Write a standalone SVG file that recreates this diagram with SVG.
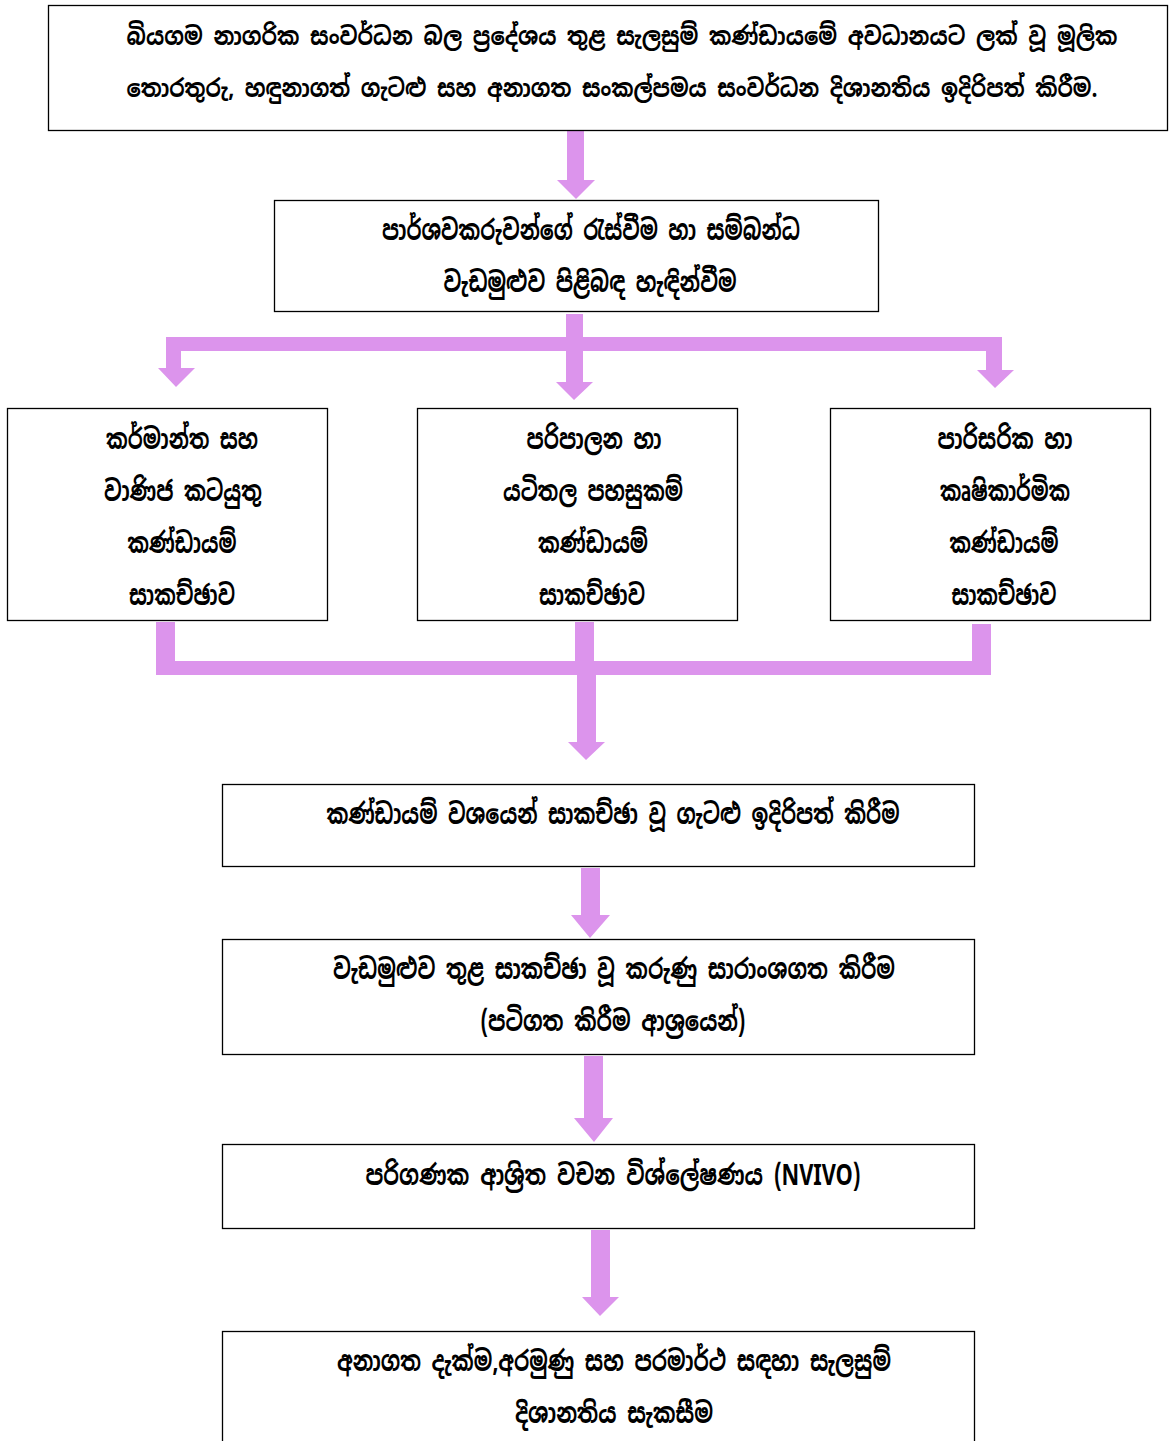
<svg xmlns="http://www.w3.org/2000/svg" width="1172" height="1441" viewBox="0 0 1172 1441">
<style>
.box{fill:#fff;stroke:#000;stroke-width:1.3}
.t{font-family:"Noto Sans Sinhala","Iskoola Pota","Noto Sans","DejaVu Sans",sans-serif;font-size:28px;font-weight:bold;fill:#000;text-anchor:middle;dominant-baseline:central}
.s{font-size:25px}
.a{fill:#DC94EC}
</style>
<rect width="1172" height="1441" fill="#fff"/>
<g id="connectors">
<path class="a" d="M567 131H584V180H595L576 199L557 180H567Z"/>
<path class="a" d="M566 314H583V337H1002V370H1014L995 388L977 370H986V351H583V382H593L574 400L556 382H566V351H181V368H195L176 387L158 368H166V337H566Z"/>
<path class="a" d="M156 622H175V661H575V622H594V661H972V624H991V675H596V742H605L586 760L568 742H577V675H156Z"/>
<path class="a" d="M581 868H600V915H610L590 938L571 915H581Z"/>
<path class="a" d="M584 1056H603V1118H613L594 1142L574 1118H584Z"/>
<path class="a" d="M591 1230H610V1297H619L600 1316L582 1297H591Z"/>
</g>
<g id="n1"><rect class="box" x="48.5" y="5.5" width="1119" height="125"/>
<text class="t s" x="622" y="36" textLength="991" lengthAdjust="spacingAndGlyphs">බියගම නාගරික සංවර්ධන බල ප්‍රදේශය තුළ සැලසුම් කණ්ඩායමේ අවධානයට ලක් වූ මූලික</text>
<text class="t s" x="612" y="88" textLength="971" lengthAdjust="spacingAndGlyphs">තොරතුරු, හඳුනාගත් ගැටළු සහ අනාගත සංකල්පමය සංවර්ධන දිශානතිය ඉදිරිපත් කිරීම.</text></g>
<g id="n2"><rect class="box" x="274.5" y="200.5" width="604" height="111"/>
<text class="t" x="591" y="230" textLength="418" lengthAdjust="spacingAndGlyphs">පාර්ශවකරුවන්ගේ රැස්වීම හා සම්බන්ධ</text>
<text class="t" x="590" y="282" textLength="293" lengthAdjust="spacingAndGlyphs">වැඩමුළුව පිළිබඳ හැඳින්වීම</text></g>
<g id="n3"><rect class="box" x="7.5" y="408.5" width="320" height="212"/>
<text class="t" x="182" y="439" textLength="152" lengthAdjust="spacingAndGlyphs">කර්මාන්ත සහ</text>
<text class="t" x="183" y="491" textLength="158" lengthAdjust="spacingAndGlyphs">වාණිජ කටයුතු</text>
<text class="t" x="182" y="543" textLength="109" lengthAdjust="spacingAndGlyphs">කණ්ඩායම්</text>
<text class="t" x="182" y="595" textLength="106" lengthAdjust="spacingAndGlyphs">සාකච්ඡාව</text></g>
<g id="n4"><rect class="box" x="417.5" y="408.5" width="320" height="212"/>
<text class="t" x="594" y="439" textLength="135" lengthAdjust="spacingAndGlyphs">පරිපාලන හා</text>
<text class="t" x="593" y="491" textLength="180" lengthAdjust="spacingAndGlyphs">යටිතල පහසුකම්</text>
<text class="t" x="593" y="543" textLength="110" lengthAdjust="spacingAndGlyphs">කණ්ඩායම්</text>
<text class="t" x="592" y="595" textLength="106" lengthAdjust="spacingAndGlyphs">සාකච්ඡාව</text></g>
<g id="n5"><rect class="box" x="830.5" y="408.5" width="320" height="212"/>
<text class="t" x="1005" y="439" textLength="135" lengthAdjust="spacingAndGlyphs">පාරිසරික හා</text>
<text class="t" x="1005" y="491" textLength="130" lengthAdjust="spacingAndGlyphs">කෘෂිකාර්මික</text>
<text class="t" x="1004" y="543" textLength="109" lengthAdjust="spacingAndGlyphs">කණ්ඩායම්</text>
<text class="t" x="1004" y="595" textLength="105" lengthAdjust="spacingAndGlyphs">සාකච්ඡාව</text></g>
<g id="n6"><rect class="box" x="222.5" y="784.5" width="752" height="82"/>
<text class="t" x="613" y="814" textLength="573" lengthAdjust="spacingAndGlyphs">කණ්ඩායම් වශයෙන් සාකච්ඡා වූ ගැටළු ඉදිරිපත් කිරීම</text></g>
<g id="n7"><rect class="box" x="222.5" y="939.5" width="752" height="115"/>
<text class="t" x="614" y="969" textLength="562" lengthAdjust="spacingAndGlyphs">වැඩමුළුව තුළ  සාකච්ඡා වූ කරුණු සාරාංශගත කිරීම</text>
<text class="t" x="613" y="1021" textLength="265" lengthAdjust="spacingAndGlyphs">(පටිගත කිරීම ආශ්‍රයෙන්)</text></g>
<g id="n8"><rect class="box" x="222.5" y="1144.5" width="752" height="84"/>
<text class="t" x="613" y="1175" textLength="495" lengthAdjust="spacingAndGlyphs">පරිගණක ආශ්‍රිත වචන විශ්ලේෂණය (NVIVO)</text></g>
<g id="n9"><rect class="box" x="222.5" y="1331.5" width="752" height="120"/>
<text class="t" x="614" y="1361" textLength="554" lengthAdjust="spacingAndGlyphs">අනාගත දැක්ම,අරමුණු සහ පරමාර්ථ සඳහා සැලසුම්</text>
<text class="t" x="614" y="1413" textLength="198" lengthAdjust="spacingAndGlyphs">දිශානතිය සැකසීම</text></g>
</svg>
